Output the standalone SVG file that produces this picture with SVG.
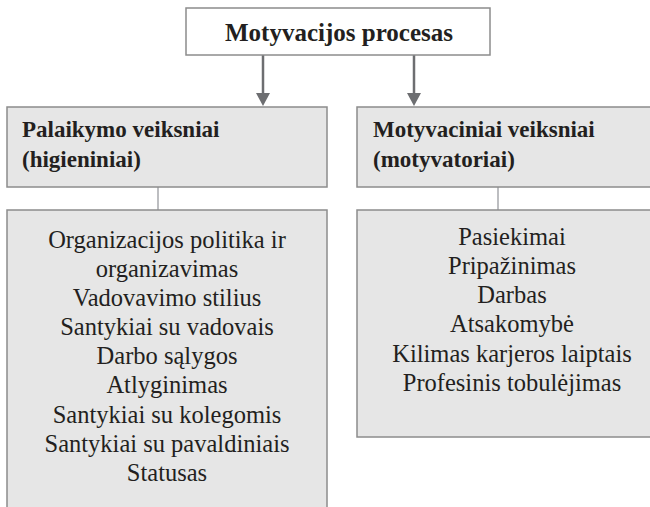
<svg xmlns="http://www.w3.org/2000/svg" width="650" height="507" viewBox="0 0 650 507">
  <style>
    .box { fill: #e6e6e6; stroke: #8c8c8c; stroke-width: 1.5; }
    .top { fill: #ffffff; stroke: #8c8c8c; stroke-width: 1.5; }
    .arrow { stroke: #6d6e71; stroke-width: 2.5; fill: none; }
    .link { stroke: #a7a9ac; stroke-width: 1.5; fill: none; }
  </style>
  <rect width="650" height="507" fill="#ffffff"/>

  <g id="connectors">
    <line class="arrow" x1="263" y1="55" x2="263" y2="93"/>
    <path d="M256,93 L270,93 L263,106 Z" fill="#6d6e71"/>
    <line class="arrow" x1="414" y1="55" x2="414" y2="93"/>
    <path d="M407,93 L421,93 L414,106 Z" fill="#6d6e71"/>
    <line class="link" x1="158" y1="187" x2="158" y2="210"/>
    <line class="link" x1="498" y1="187" x2="498" y2="210"/>
  </g>

  <g font-family="'Liberation Serif', 'DejaVu Serif', serif" fill="#231f20">
    <g id="process">
      <rect class="top" x="186" y="8" width="304" height="47"/>
      <text x="339" y="41" font-size="25" font-weight="bold" text-anchor="middle" fill="#231f20">Motyvacijos procesas</text>
    </g>

    <g id="hygiene-head" font-size="23" font-weight="bold">
      <rect class="box" x="7" y="107" width="320" height="80"/>
      <text x="22" y="137" fill="#231f20">Palaikymo veiksniai</text>
      <text x="22" y="167" fill="#231f20">(higieniniai)</text>
    </g>

    <g id="motivator-head" font-size="23" font-weight="bold">
      <rect class="box" x="357" y="107" width="310" height="80"/>
      <text x="373" y="137" fill="#231f20">Motyvaciniai veiksniai</text>
      <text x="373" y="167" fill="#231f20">(motyvatoriai)</text>
    </g>

    <g id="hygiene-list" font-size="24.5" text-anchor="middle">
      <rect class="box" x="7" y="210" width="320" height="310"/>
      <text x="167" y="248" fill="#231f20">Organizacijos politika ir</text>
      <text x="167" y="277" fill="#231f20">organizavimas</text>
      <text x="167" y="306" fill="#231f20">Vadovavimo stilius</text>
      <text x="167" y="335" fill="#231f20">Santykiai su vadovais</text>
      <text x="167" y="364" fill="#231f20">Darbo sąlygos</text>
      <text x="167" y="393" fill="#231f20">Atlyginimas</text>
      <text x="167" y="423" fill="#231f20">Santykiai su kolegomis</text>
      <text x="167" y="452" fill="#231f20">Santykiai su pavaldiniais</text>
      <text x="167" y="481" fill="#231f20">Statusas</text>
    </g>

    <g id="motivator-list" font-size="24.5" text-anchor="middle">
      <rect class="box" x="357" y="210" width="310" height="227"/>
      <text x="512" y="245" fill="#231f20">Pasiekimai</text>
      <text x="512" y="274" fill="#231f20">Pripažinimas</text>
      <text x="512" y="303" fill="#231f20">Darbas</text>
      <text x="512" y="332" fill="#231f20">Atsakomybė</text>
      <text x="512" y="362" fill="#231f20">Kilimas karjeros laiptais</text>
      <text x="512" y="391" fill="#231f20">Profesinis tobulėjimas</text>
    </g>
  </g>
</svg>
